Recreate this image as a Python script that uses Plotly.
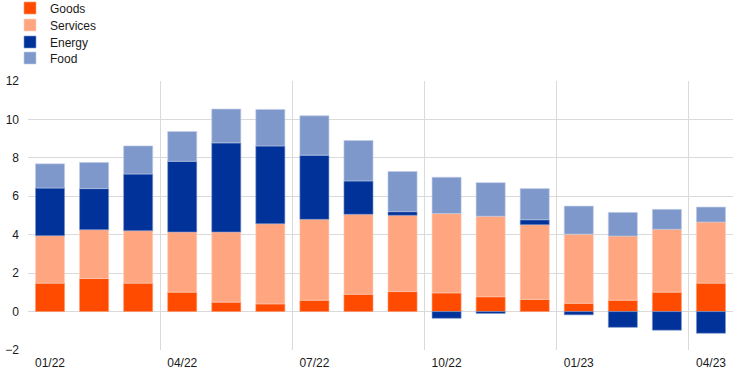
import plotly.graph_objects as go

months = ["01/22", "02/22", "03/22", "04/22", "05/22", "06/22", "07/22", "08/22",
          "09/22", "10/22", "11/22", "12/22", "01/23", "02/23", "03/23", "04/23"]
goods = [1.48, 1.72, 1.48, 1.01, 0.49, 0.40, 0.59, 0.90, 1.04, 0.97, 0.77, 0.63, 0.43, 0.59, 1.01, 1.48]
services = [2.47, 2.54, 2.73, 3.13, 3.65, 4.17, 4.21, 4.16, 3.97, 4.13, 4.19, 3.89, 3.60, 3.34, 3.27, 3.18]
energy = [2.48, 2.14, 2.95, 3.68, 4.64, 4.05, 3.34, 1.74, 0.19, -0.35, -0.10, 0.26, -0.17, -0.82, -0.97, -1.13]
food = [1.26, 1.36, 1.46, 1.55, 1.76, 1.90, 2.05, 2.10, 2.09, 1.89, 1.75, 1.62, 1.46, 1.23, 1.04, 0.78]

tick_labels = ["01/22", "04/22", "07/22", "10/22", "01/23", "04/23"]

x = list(range(len(months)))
tickvals = [months.index(t) for t in tick_labels]

series = [
    ("Goods", goods, "#FF4B00", "#FF9A73"),
    ("Services", services, "#FFA57F", "#FFD2BF"),
    ("Energy", energy, "#003299", "#7F98CC"),
    ("Food", food, "#7F98CC", "#C0CCE6"),
]
legend_ids = ["legend", "legend2", "legend3", "legend4"]
legend_rows = [8, 25, 42, 58]

fig = go.Figure()
for (name, vals, col, edge), lid in zip(series, legend_ids):
    fig.add_trace(go.Bar(
        x=x, y=vals, name=name, legend=lid,
        marker=dict(color=col, line=dict(color=edge, width=0.6)),
        width=0.66,
        customdata=months,
        hovertemplate="%{customdata}: %{y:.2f}<extra>" + name + "</extra>",
    ))

W, H = 742, 376
legend_layout = {}
for lid, row in zip(legend_ids, legend_rows):
    legend_layout[lid] = dict(
        xref="container", yref="container",
        x=10 / W, y=1 - row / H, xanchor="left", yanchor="middle",
        font=dict(size=12, color="#1a1a1a"),
        itemwidth=30, bgcolor="rgba(0,0,0,0)", borderwidth=0,
    )

grid_col = "#dadada"
fig.update_layout(
    barmode="relative",
    template="none",
    width=W, height=H,
    margin=dict(l=28, r=9, t=81, b=26, autoexpand=False),
    paper_bgcolor="white",
    plot_bgcolor="white",
    font=dict(family="Liberation Sans, Arial, sans-serif", size=12, color="#1a1a1a"),
    showlegend=True,
    xaxis=dict(
        range=[-0.5, 15.5], automargin=False,
        tickmode="array", tickvals=tickvals, ticktext=tick_labels,
        showgrid=False, zeroline=False, showline=False,
        ticks="", ticklabelstandoff=4,
        minor=dict(tick0=2.5, dtick=3, showgrid=True, gridcolor=grid_col, gridwidth=1.2, ticks=""),
    ),
    yaxis=dict(
        range=[-2, 12], tickvals=[-2, 0, 2, 4, 6, 8, 10, 12], automargin=False,
        showgrid=True, gridcolor=grid_col, gridwidth=1.2,
        zeroline=True, zerolinecolor=grid_col, zerolinewidth=1.2,
        showline=False, ticks="", ticklabelstandoff=8,
    ),
    **legend_layout,
)

fig.write_html(
    "out.html",
    config={"displayModeBar": False},
    post_script="document.body.style.margin='0';document.body.style.padding='0';document.body.style.overflow='hidden';",
)
